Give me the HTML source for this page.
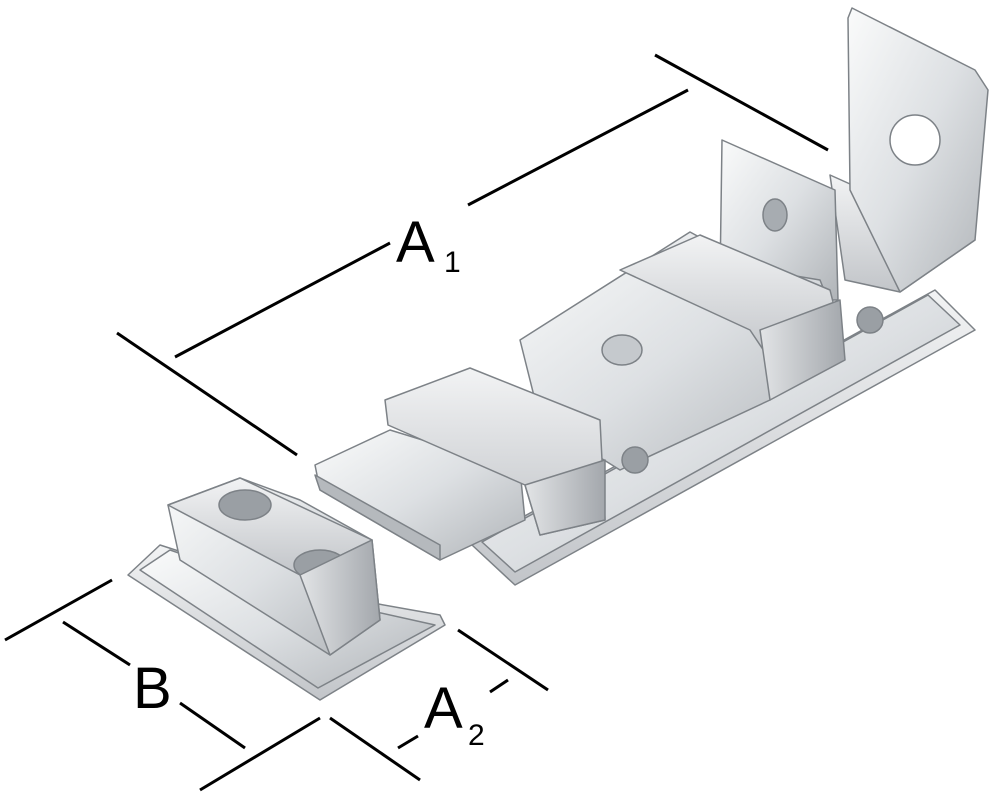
<!DOCTYPE html>
<html><head><meta charset="utf-8"><style>
html,body{margin:0;padding:0;background:#fff;}
svg{display:block}
text{font-family:"Liberation Sans",Arial,sans-serif;fill:#000}
</style></head><body>
<svg width="1000" height="795" viewBox="0 0 1000 795" xmlns="http://www.w3.org/2000/svg">
<defs>
<linearGradient id="m1" x1="0" y1="0" x2="1" y2="1"><stop offset="0" stop-color="#fafbfb"/><stop offset="0.5" stop-color="#dde0e3"/><stop offset="1" stop-color="#b0b4b8"/></linearGradient>
<linearGradient id="m2" x1="0" y1="0" x2="0" y2="1"><stop offset="0" stop-color="#f2f3f4"/><stop offset="1" stop-color="#c2c5c9"/></linearGradient>
<linearGradient id="m3" x1="0" y1="0" x2="1" y2="0"><stop offset="0" stop-color="#e2e4e6"/><stop offset="1" stop-color="#a3a7ac"/></linearGradient>
</defs>
<g stroke="#7d8287" stroke-width="1.5" stroke-linejoin="round">
<!-- base plate -->
<polygon points="472,545 515,585 975,330 935,290" fill="url(#m2)"/>
<polygon points="482,542 515,572 960,325 928,295" fill="url(#m1)"/>
<!-- angle bracket -->
<polygon points="830,175 975,240 900,292 845,280" fill="url(#m2)"/>
<polygon points="852,8 975,70 988,90 975,240 900,292 850,190 848,18" fill="url(#m1)"/>
<circle cx="915" cy="140" r="25" fill="#fff"/>
<!-- second bracket -->
<polygon points="722,140 835,190 838,300 760,300 720,280" fill="url(#m1)"/>
<ellipse cx="775" cy="215" rx="12" ry="16" fill="#a7acb1"/>
<!-- body -->
<polygon points="520,340 690,232 760,270 820,280 840,330 770,400 620,470 540,420" fill="url(#m1)"/>
<polygon points="620,270 700,235 830,290 840,330 770,360 750,330" fill="url(#m2)"/>
<polygon points="760,330 840,300 845,360 770,400" fill="url(#m3)"/>
<ellipse cx="622" cy="350" rx="20" ry="15" fill="#c5c9cd"/>
<!-- bolt bar -->
<polygon points="315,465 390,430 520,470 525,520 440,560 320,490" fill="url(#m1)"/>
<polygon points="320,490 440,560 440,545 315,475" fill="#b5b9bd"/>
<!-- guide -->
<polygon points="385,400 470,368 600,420 605,520 540,535 525,485 388,425" fill="url(#m2)"/>
<polygon points="525,485 605,460 605,520 540,535" fill="url(#m3)"/>
<circle cx="635" cy="460" r="13" fill="#9a9fa4"/>
<circle cx="870" cy="320" r="13" fill="#9a9fa4"/>
<!-- keeper plate -->
<polygon points="128,575 320,700 445,625 440,615 300,590 160,545" fill="url(#m2)"/>
<polygon points="140,570 318,688 435,625 300,595 170,550" fill="url(#m1)"/>
<polygon points="168,505 240,478 300,500 372,540 380,620 330,655 180,560" fill="url(#m1)"/>
<polygon points="168,505 240,478 372,540 300,575" fill="url(#m2)"/>
<ellipse cx="245" cy="505" rx="26" ry="15" fill="#9a9fa4"/>
<ellipse cx="320" cy="565" rx="26" ry="15" fill="#9a9fa4"/>
<polygon points="300,575 372,540 380,620 330,655" fill="url(#m3)"/>
</g>
<g stroke="#000" stroke-width="3" stroke-linecap="butt">
<line x1="655" y1="55" x2="828" y2="150"/>
<line x1="117" y1="333" x2="297" y2="455"/>
<line x1="175" y1="357" x2="390" y2="243"/>
<line x1="468" y1="205" x2="688" y2="90"/>
<line x1="5" y1="640" x2="112" y2="580"/>
<line x1="200" y1="790" x2="320" y2="718"/>
<line x1="63" y1="622" x2="130" y2="665"/>
<line x1="180" y1="703" x2="245" y2="748"/>
<line x1="458" y1="630" x2="548" y2="690"/>
<line x1="330" y1="718" x2="420" y2="780"/>
<line x1="490" y1="692" x2="508" y2="680"/>
<line x1="398" y1="748" x2="418" y2="736"/>
</g>
<text x="396" y="262" font-size="58">A</text><text x="444" y="272" font-size="30">1</text>
<text x="133" y="708" font-size="58">B</text>
<text x="424" y="728" font-size="58">A</text><text x="468" y="745" font-size="30">2</text>
</svg>
</body></html>
